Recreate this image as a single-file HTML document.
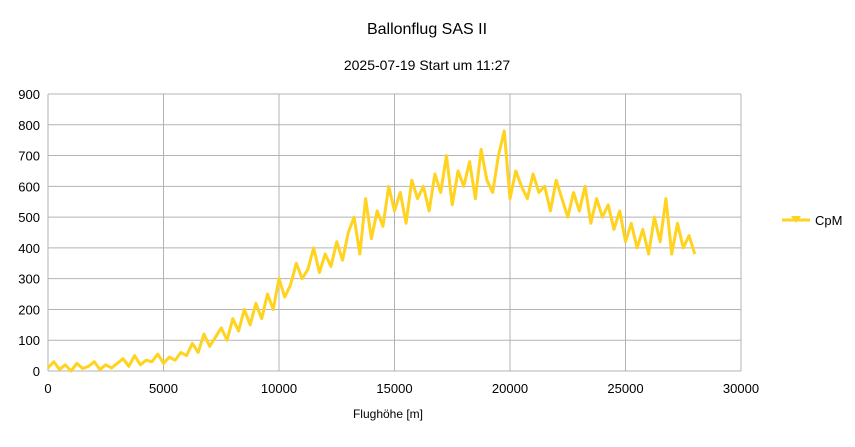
<!DOCTYPE html>
<html><head><meta charset="utf-8"><style>
body{margin:0;background:#fff;font-family:"Liberation Sans",sans-serif}
svg text{font-family:"Liberation Sans",sans-serif;fill:#000}
</style></head><body>
<svg id="c" width="855" height="442">
<text x="427" y="34" font-size="16" text-anchor="middle">Ballonflug SAS II</text>
<text x="427" y="70" font-size="14" text-anchor="middle">2025-07-19 Start um 11:27</text>
<text x="388" y="418" font-size="12" text-anchor="middle">Flughöhe [m]</text>
<g id="grid"></g><g id="ticks"></g><g id="series"></g>
<g>
<line x1="782" y1="220" x2="810" y2="220" stroke="#ffd320" stroke-width="3"/>
<path d="M791 216 L801 216 L796 223 Z" fill="#ffd320"/>
<text x="815" y="225" font-size="13">CpM</text>
</g>
</svg>
<script>
const xTicks=[0,5000,10000,15000,20000,25000,30000];
const yTicks=[0,100,200,300,400,500,600,700,800,900];
const heights=[0,250,500,750,1000,1250,1500,1750,2000,2250,2500,2750,3000,3250,3500,3750,4000,4250,4500,4750,5000,5250,5500,5750,6000,6250,6500,6750,7000,7250,7500,7750,8000,8250,8500,8750,9000,9250,9500,9750,10000,10250,10500,10750,11000,11250,11500,11750,12000,12250,12500,12750,13000,13250,13500,13750,14000,14250,14500,14750,15000,15250,15500,15750,16000,16250,16500,16750,17000,17250,17500,17750,18000,18250,18500,18750,19000,19250,19500,19750,20000,20250,20500,20750,21000,21250,21500,21750,22000,22250,22500,22750,23000,23250,23500,23750,24000,24250,24500,24750,25000,25250,25500,25750,26000,26250,26500,26750,27000,27250,27500,27750,28000];
const cpm=[10,30,5,20,0,25,8,15,30,5,20,10,
25,40,15,50,20,35,30,55,25,45,35,60,
50,90,60,120,80,110,140,100,170,130,200,150,
220,170,250,200,300,240,280,350,300,330,400,320,
380,340,420,360,450,500,380,560,430,520,470,600,
520,580,480,620,560,600,520,640,580,700,540,650,
600,680,560,720,620,580,700,780,560,650,600,560,
640,580,600,520,620,560,500,580,520,600,480,560,
500,540,460,520,420,480,400,460,380,500,420,560,
380,480,400,440,380];
const L=48,R=741,T=94,B=371;
const sx=v=>L+(v-0)/30000*(R-L), sy=v=>B-(v/900)*(B-T);
const NS="http://www.w3.org/2000/svg";
function mk(t,a,p){const e=document.createElementNS(NS,t);for(const k in a)e.setAttribute(k,a[k]);p.appendChild(e);return e;}
const g=document.getElementById('grid'),tk=document.getElementById('ticks'),s=document.getElementById('series');
yTicks.forEach(v=>{const l=mk('line',{x1:L,x2:R,y1:sy(v),y2:sy(v),stroke:'#b3b3b3'},g);


const t=mk('text',{x:L-8,y:sy(v)+5,'font-size':13,'text-anchor':'end'},tk);t.textContent=v;

});
xTicks.forEach(v=>{const l=mk('line',{x1:sx(v),x2:sx(v),y1:T,y2:B,stroke:'#b3b3b3'},g);


const t=mk('text',{x:sx(v),y:B+22,'font-size':13,'text-anchor':'middle'},tk);t.textContent=v;

});
const p=mk('polyline',{points:heights.map((h,i)=>sx(h)+','+sy(cpm[i])).join(' '),fill:'none',stroke:'#ffd320','stroke-width':3,'stroke-linejoin':'round'},s);


</script>
</body></html>
